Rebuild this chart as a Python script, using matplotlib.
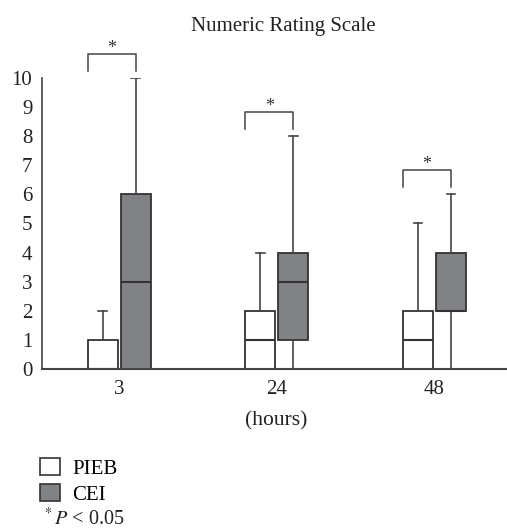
import numpy as np
import matplotlib.pyplot as plt
from matplotlib.patches import Patch

plt.rcParams['font.family'] = ['Liberation Serif', 'DejaVu Serif']
plt.rcParams['mathtext.fontset'] = 'stix'

# datos
horas = ['3', '24', '48']
# min, q1, mediana, q3, max
pieb_min = [0, 0, 0]
pieb_q1 = [0, 0, 0]
pieb_med = [0, 1, 1]
pieb_q3 = [1, 2, 2]
pieb_max = [2, 4, 5]

cei_min = [0, 0, 0]
cei_q1 = [0, 1, 2]
cei_med = [3, 3, 2]
cei_q3 = [6, 4, 4]
cei_max = [10, 8, 6]

signif = [True, True, True]

def stats(mn, q1, med, q3, mx):
    return [dict(whislo=a, q1=b, med=c, q3=d, whishi=e, fliers=[])
            for a, b, c, d, e in zip(mn, q1, med, q3, mx)]

fig = plt.figure(figsize=(5.07, 5.30), dpi=100)
ax = fig.add_axes([42/507, 0.3038, 465/507, 0.853 - 0.3038])

x = np.arange(len(horas))
off = 0.105
ancho = 0.19
col_borde = '#333333'
fs = 15

for st, pos, color in [(stats(pieb_min, pieb_q1, pieb_med, pieb_q3, pieb_max), x - off, 'white'),
                       (stats(cei_min, cei_q1, cei_med, cei_q3, cei_max), x + off, '#808285')]:
    ax.bxp(st, positions=pos, widths=ancho, patch_artist=True, showfliers=False,
           capwidths=0.055,
           boxprops=dict(facecolor=color, edgecolor=col_borde, linewidth=1.3),
           medianprops=dict(color=col_borde, linewidth=1.5),
           whiskerprops=dict(color='#444444', linewidth=1.2),
           capprops=dict(color='#444444', linewidth=1.2))

# corchetes de significancia
for i, s in enumerate(signif):
    if not s:
        continue
    top = max(pieb_max[i], cei_max[i]) + 0.82
    x0 = x[i] - off - ancho / 2
    x1 = x[i] + off
    ax.plot([x0, x0, x1, x1], [top - 0.57, top, top, top - 0.57],
            color='#444444', lw=1.1, clip_on=False)
    ax.text((x0 + x1) / 2, top + 0.05, '*', ha='center', va='baseline',
            fontsize=13, color='#333333', clip_on=False)

ax.set_xlim(-0.49, 2.46)
ax.set_ylim(0, 10)
ax.set_yticks(range(0, 11))
ax.set_xticks(x)
ax.set_xticklabels(horas)
ax.tick_params(length=0, labelsize=fs, colors='#222222', pad=8)
ax.tick_params(axis='y', pad=7)
for s in ['top', 'right']:
    ax.spines[s].set_visible(False)
ax.spines['left'].set_color('#444444')
ax.spines['bottom'].set_color('#444444')
ax.spines['left'].set_linewidth(1.2)
ax.spines['bottom'].set_linewidth(1.5)

fig.text(283/507, 1 - 26/530, 'Numeric Rating Scale', ha='center', va='center',
         fontsize=fs, color='#222222')
fig.text(276/507, 1 - 421/530, '(hours)', ha='center', va='center',
         fontsize=fs + 0.5, color='#222222')

handles = [Patch(facecolor='white', edgecolor=col_borde, linewidth=1.2, label='PIEB'),
           Patch(facecolor='#808285', edgecolor=col_borde, linewidth=1.2, label='CEI')]
fig.legend(handles=handles, loc='upper left', bbox_to_anchor=(40/507, 1 - 458/530),
           frameon=False, handlelength=0.95, handleheight=0.9, handletextpad=0.6,
           labelspacing=0.25, fontsize=fs, borderaxespad=0, borderpad=0)
fig.text(42/507, 1 - 519/530, r'$^*P$ < 0.05', ha='left', va='center',
         fontsize=14.5, color='#222222')

fig.savefig('out.png', dpi=100)
